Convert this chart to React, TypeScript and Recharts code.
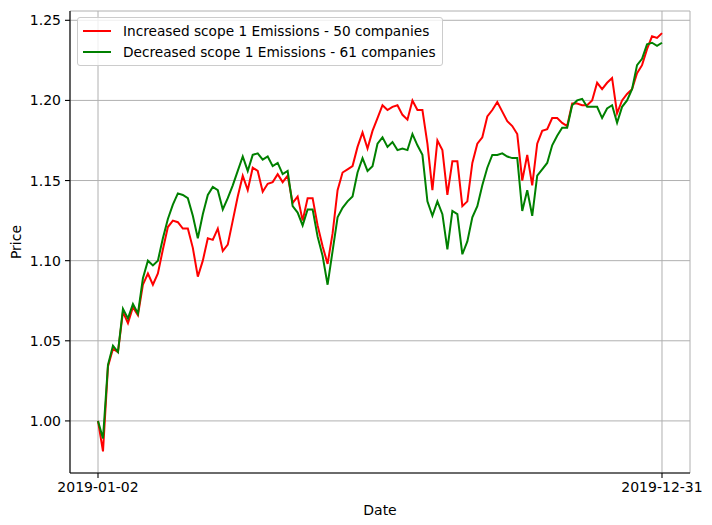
import {
  LineChart,
  Line,
  XAxis,
  YAxis,
  CartesianGrid,
  Legend,
} from "recharts";

// tick labels on the date axis (first and last trading day)
const xTickLabels = ["2019-01-02", "2019-12-31"];
const yTicks = [1.0, 1.05, 1.1, 1.15, 1.2, 1.25];

const increasedLabel = "Increased scope 1 Emissions - 50 companies";
const decreasedLabel = "Decreased scope 1 Emissions - 61 companies";

// price, sampled roughly every second trading day
const increased = [
  1.000, 0.981, 1.034, 1.045, 1.043, 1.068, 1.061, 1.071, 1.066, 1.085,
  1.092, 1.085, 1.092, 1.107, 1.121, 1.125, 1.124, 1.120, 1.120, 1.108,
  1.090, 1.100, 1.114, 1.113, 1.120, 1.106, 1.110, 1.125, 1.140, 1.153,
  1.144, 1.158, 1.156, 1.143, 1.148, 1.149, 1.154, 1.149, 1.153, 1.136,
  1.140, 1.125, 1.139, 1.139, 1.122, 1.109, 1.098, 1.117, 1.144, 1.155,
  1.157, 1.159, 1.171, 1.180, 1.170, 1.181, 1.189, 1.197, 1.194, 1.196,
  1.197, 1.191, 1.188, 1.200, 1.194, 1.194, 1.173, 1.144, 1.175, 1.169,
  1.141, 1.162, 1.162, 1.134, 1.137, 1.161, 1.173, 1.177, 1.190, 1.194,
  1.199, 1.193, 1.187, 1.184, 1.179, 1.150, 1.166, 1.147, 1.173, 1.181,
  1.182, 1.189, 1.189, 1.186, 1.184, 1.198, 1.198, 1.197, 1.197, 1.200,
  1.211, 1.207, 1.211, 1.214, 1.192, 1.200, 1.204, 1.207, 1.217, 1.222,
  1.232, 1.240, 1.239, 1.242,
];

const decreased = [
  1.000, 0.989, 1.035, 1.047, 1.043, 1.070, 1.064, 1.073, 1.067, 1.089,
  1.100, 1.097, 1.100, 1.114, 1.126, 1.135, 1.142, 1.141, 1.139, 1.128,
  1.114, 1.129, 1.141, 1.146, 1.144, 1.132, 1.139, 1.147, 1.156, 1.165,
  1.156, 1.166, 1.167, 1.163, 1.165, 1.159, 1.161, 1.154, 1.156, 1.134,
  1.130, 1.122, 1.132, 1.132, 1.115, 1.103, 1.085, 1.106, 1.127, 1.133,
  1.137, 1.140, 1.155, 1.164, 1.156, 1.159, 1.173, 1.177, 1.171, 1.174,
  1.169, 1.170, 1.169, 1.179, 1.172, 1.166, 1.137, 1.128, 1.137, 1.129,
  1.107, 1.131, 1.129, 1.104, 1.112, 1.127, 1.134, 1.147, 1.158, 1.166,
  1.166, 1.167, 1.165, 1.164, 1.164, 1.131, 1.144, 1.128, 1.153, 1.157,
  1.161, 1.172, 1.178, 1.183, 1.183, 1.197, 1.200, 1.201, 1.196, 1.196,
  1.196, 1.189, 1.195, 1.197, 1.186, 1.196, 1.200, 1.207, 1.222, 1.226,
  1.235, 1.236, 1.234, 1.236,
];

const lastIdx = increased.length - 1;

const chartData = increased.map((v, i) => ({
  idx: i,
  increased: v,
  decreased: decreased[i],
}));

const FONT = "'DejaVu Sans', sans-serif";

function LegendBox() {
  const items = [
    { label: increasedLabel, cor: "#ff0000" },
    { label: decreasedLabel, cor: "#008000" },
  ];
  return (
    <div style={{
      background: "rgba(255,255,255,0.8)",
      border: "1px solid #cccccc",
      borderRadius: "3px",
      padding: "3px 6px 3px 5px",
      fontFamily: FONT,
      fontSize: "13.7px",
      color: "#000",
      whiteSpace: "nowrap",
    }}>
      {items.map(({ label, cor }) => (
        <div key={label} style={{ display: "flex", alignItems: "center", height: "20.5px" }}>
          <span style={{ display: "inline-block", width: "28px", height: "2px", background: cor, marginRight: "12px" }} />
          <span>{label}</span>
        </div>
      ))}
    </div>
  );
}

export default function App() {
  return (
    <div style={{ position: "absolute", left: 0, top: 0, width: 712, height: 525, background: "#fff", fontFamily: FONT }}>
      <LineChart
        width={712}
        height={525}
        data={chartData}
        margin={{ top: 11, right: 22, bottom: 0, left: 0 }}
      >
        <CartesianGrid stroke="#b0b0b0" strokeWidth={1} />
        <XAxis
          dataKey="idx"
          type="number"
          domain={[-5.61, lastIdx + 5.61]}
          ticks={[0, lastIdx]}
          tickFormatter={(v: number) => (v === 0 ? xTickLabels[0] : xTickLabels[1])}
          height={52}
          stroke="#000"
          tick={{ fill: "#000", fontSize: 14, fontFamily: FONT }}
          tickSize={5}
          tickMargin={4}
          axisLine={{ stroke: "#000", strokeWidth: 1.1 }}
          tickLine={{ stroke: "#000", strokeWidth: 1.1 }}
          allowDataOverflow
          label={{ value: "Date", position: "insideBottom", offset: 10, fill: "#000", fontSize: 14, fontFamily: FONT }}
        />
        <XAxis
          xAxisId="top"
          orientation="top"
          dataKey="idx"
          type="number"
          domain={[-5.61, lastIdx + 5.61]}
          height={0}
          tick={false}
          tickLine={false}
          axisLine={{ stroke: "#000", strokeWidth: 1.1 }}
        />
        <YAxis
          type="number"
          domain={[0.9675, 1.2558]}
          ticks={yTicks}
          tickFormatter={(v: number) => v.toFixed(2)}
          width={70}
          tick={{ fill: "#000", fontSize: 14, fontFamily: FONT }}
          tickSize={5}
          tickMargin={4}
          axisLine={{ stroke: "#000", strokeWidth: 1.1 }}
          tickLine={{ stroke: "#000", strokeWidth: 1.1 }}
          allowDataOverflow
          label={{ value: "Price", angle: -90, position: "insideLeft", offset: 16, fill: "#000", fontSize: 14, fontFamily: FONT, style: { textAnchor: "middle" } }}
        />
        <YAxis
          yAxisId="right"
          orientation="right"
          type="number"
          domain={[0.9675, 1.2558]}
          width={0}
          tick={false}
          tickLine={false}
          axisLine={{ stroke: "#000", strokeWidth: 1.1 }}
        />
        <Legend
          layout="horizontal"
          align="center"
          verticalAlign="middle"
          content={() => <LegendBox />}
          wrapperStyle={{ left: 77, top: 17, width: "auto", height: "auto" }}
        />
        <Line
          type="linear"
          dataKey="increased"
          stroke="#ff0000"
          strokeWidth={2}
          dot={false}
          isAnimationActive={false}
        />
        <Line
          type="linear"
          dataKey="decreased"
          stroke="#008000"
          strokeWidth={2}
          dot={false}
          isAnimationActive={false}
        />
      </LineChart>
    </div>
  );
}
